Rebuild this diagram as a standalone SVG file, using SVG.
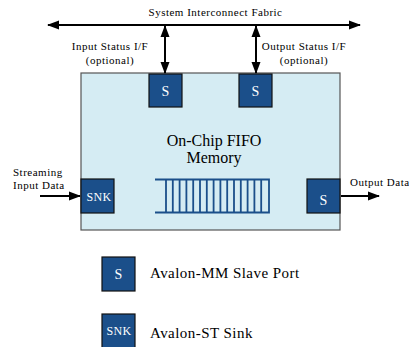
<svg xmlns="http://www.w3.org/2000/svg" width="409" height="347" viewBox="0 0 409 347">
<defs>
<style>
text{font-family:"Liberation Serif","Times New Roman",serif;fill:#000}
.lbl{font-size:11px;letter-spacing:0.5px}
.port{fill:#1b4f8a;stroke:#111;stroke-width:1.2}
.pt{fill:#fff;font-size:14px;text-anchor:middle}
.pts{fill:#fff;font-size:12px;text-anchor:middle;letter-spacing:0.3px}
.leg{font-size:15px;letter-spacing:0.45px}
.big{font-size:16px;text-anchor:middle}
.wire{stroke:#000;stroke-width:2;fill:none}
.fifo{stroke:#1b4f8a;stroke-width:1.8;fill:none}
</style>
<marker id="ah" viewBox="0 0 12 10" refX="11" refY="5" markerWidth="12" markerHeight="10" markerUnits="userSpaceOnUse" orient="auto-start-reverse">
<path d="M0,0.5 L12,5 L0,9.5 Z" fill="#000"/>
</marker>
</defs>
<rect width="409" height="347" fill="#fff"/>

<g id="fabric">
<text class="lbl" x="215.5" y="16" text-anchor="middle">System Interconnect Fabric</text>
</g>

<g id="fifo">
<rect x="81" y="73" width="259" height="157" fill="#d5ecf3" stroke="#555" stroke-width="1.2"/>
<text class="big" x="214" y="146">On-Chip FIFO</text>
<text class="big" x="214" y="163">Memory</text>
<g class="fifo">
<path d="M155,179.5 H269 V212.5 H155"/>
<path d="M166,179.5 V212.5 M172.8,179.5 V212.5 M179.6,179.5 V212.5 M186.4,179.5 V212.5 M193.2,179.5 V212.5 M200,179.5 V212.5 M206.8,179.5 V212.5 M213.6,179.5 V212.5 M220.4,179.5 V212.5 M227.2,179.5 V212.5 M234,179.5 V212.5 M240.8,179.5 V212.5 M247.6,179.5 V212.5 M254.4,179.5 V212.5 M261.2,179.5 V212.5"/>
</g>
</g>

<g id="s_in">
<rect class="port" x="149" y="74" width="33" height="33"/>
<text class="pt" x="165.5" y="96">S</text>
</g>
<g id="s_out">
<rect class="port" x="239" y="74" width="33" height="33"/>
<text class="pt" x="255.5" y="96">S</text>
</g>
<g id="snk">
<rect class="port" x="81" y="179" width="33" height="34"/>
<text class="pts" x="99" y="201">SNK</text>
</g>
<g id="s_data">
<rect class="port" x="307" y="179" width="33" height="34"/>
<text class="pt" x="323.5" y="205">S</text>
</g>

<g id="labels">
<text class="lbl" x="110" y="50" text-anchor="middle">Input Status I/F</text>
<text class="lbl" x="110" y="64" text-anchor="middle">(optional)</text>
<text class="lbl" x="304" y="50" text-anchor="middle">Output Status I/F</text>
<text class="lbl" x="304" y="64" text-anchor="middle">(optional)</text>
<text class="lbl" x="13" y="176">Streaming</text>
<text class="lbl" x="13" y="189">Input Data</text>
<text class="lbl" x="350" y="186">Output Data</text>
</g>

<g id="connectors">
<line class="wire" x1="48" y1="25" x2="360" y2="25" marker-start="url(#ah)" marker-end="url(#ah)"/>
<line class="wire" x1="165" y1="26" x2="165" y2="73" marker-start="url(#ah)" marker-end="url(#ah)"/>
<line class="wire" x1="256" y1="26" x2="256" y2="73" marker-start="url(#ah)" marker-end="url(#ah)"/>
<line class="wire" x1="40" y1="196" x2="80" y2="196" marker-end="url(#ah)"/>
<line class="wire" x1="341" y1="196" x2="379" y2="196" marker-end="url(#ah)"/>
</g>

<g id="legend">
<g id="leg_s">
<rect class="port" x="102" y="257" width="33" height="34"/>
<text class="pt" x="118.5" y="279">S</text>
<text class="leg" x="150" y="278">Avalon-MM Slave Port</text>
</g>
<g id="leg_snk">
<rect class="port" x="102" y="314" width="33" height="34"/>
<text class="pts" x="119" y="335">SNK</text>
<text class="leg" x="150" y="338">Avalon-ST Sink</text>
</g>
</g>
</svg>
